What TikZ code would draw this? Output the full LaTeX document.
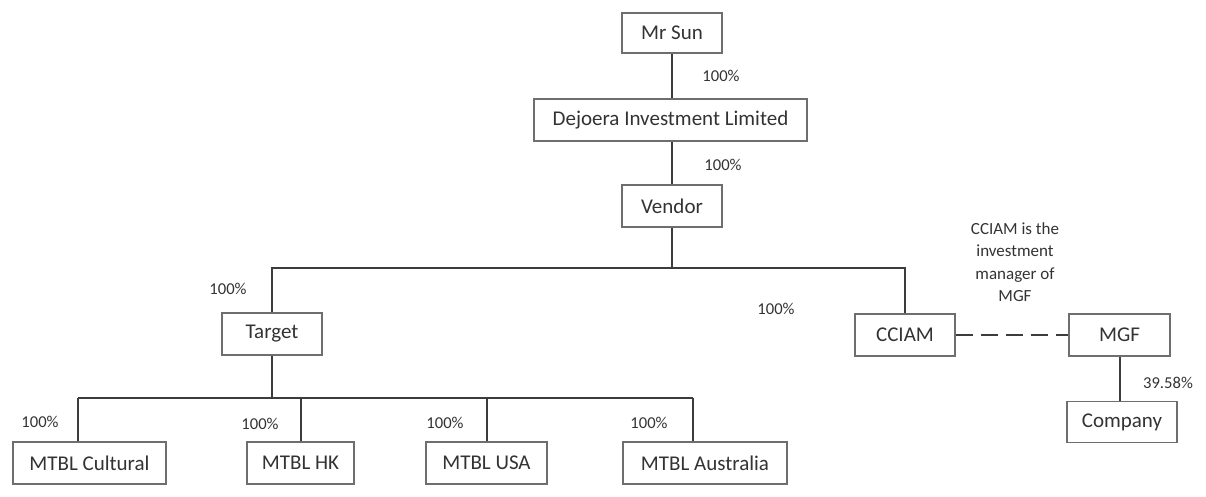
\documentclass[tikz,border=0pt]{standalone}
\usepackage{fontspec}
\setmainfont{Carlito}
\definecolor{boxc}{HTML}{6E6E6E}
\definecolor{linec}{HTML}{3C3C3C}
\definecolor{txtc}{HTML}{333333}
\begin{document}
\begin{tikzpicture}[x=0.5pt,y=-0.5pt,
  box/.style={draw=boxc, line width=0.8pt, fill=white, inner sep=0pt, text=txtc, font=\fontsize{10.5}{12}\selectfont, minimum height=21pt},
  lbl/.style={inner sep=0pt, text=txtc, font=\fontsize{8.3}{10}\selectfont},
  conn/.style={draw=linec, line width=1.4pt}]
\useasboundingbox (0,0) rectangle (1206,497);
% boxes
\node[box, minimum width=50pt, minimum height=20pt] (mrsun) at (672,33) {Mr Sun};
\node[box, minimum width=136.5pt] (dej) at (670.5,120) {Dejoera Investment Limited};
\node[box, minimum width=50pt] (vendor) at (672,206) {Vendor};
\node[box, minimum width=50pt] (target) at (272,334) {Target};
\node[box, minimum width=50pt] (cciam) at (905,335) {CCIAM};
\node[box, minimum width=50.5pt] (mgf) at (1119.5,335) {MGF};
\node[box, minimum width=55pt, minimum height=20.5pt] (company) at (1122,422) {Company};
\node[box, minimum width=76.5pt] (cult) at (89.5,463) {MTBL Cultural};
\node[box, minimum width=53.5pt] (hk) at (300.5,463) {MTBL HK};
\node[box, minimum width=60.5pt] (usa) at (486.5,463) {MTBL USA};
\node[box, minimum width=82pt] (aus) at (705,463) {MTBL Australia};
% coordinates
\coordinate (b1) at (672,268);
\coordinate (b2) at (272,398);
\coordinate (d1) at (78,398);
\coordinate (d2) at (301,398);
\coordinate (d3) at (487,398);
\coordinate (d4) at (693,398);
% connectors
\draw[conn] (mrsun.south) -- (mrsun.south |- dej.north);
\draw[conn] (vendor.north |- dej.south) -- (vendor.north);
\draw[conn] (vendor.south) -- (b1);
\draw[conn] (target.north) |- (b1) -| (cciam.north);
\draw[conn] (target.south) -- (b2);
\draw[conn] (d1) -- (d4);
\draw[conn] (d1) -- (d1 |- cult.north);
\draw[conn] (d2) -- (d2 |- hk.north);
\draw[conn] (d3) -- (d3 |- usa.north);
\draw[conn] (d4) -- (d4 |- aus.north);
\draw[conn, dash pattern=on 8.5pt off 4pt] (cciam.east) -- (mgf.west);
\draw[conn] (mgf.south -| 1120,0) -- (company.north -| 1120,0);
% labels
\node[lbl] (l1) at (721,76) {100\%};
\node[lbl] (l2) at (723,165) {100\%};
\node[lbl] (l3) at (228,289) {100\%};
\node[lbl] (l4) at (776,309) {100\%};
\node[lbl] (l5) at (40,422) {100\%};
\node[lbl] (l6) at (260,424) {100\%};
\node[lbl] (l7) at (445,423) {100\%};
\node[lbl] (l8) at (649,423) {100\%};
\node[lbl] (l9) at (1168,383) {39.58\%};
\node[lbl, align=center, font=\fontsize{8.5}{11.2}\selectfont] (note) at (1015,262) {CCIAM is the\\investment\\manager of\\MGF};
\end{tikzpicture}
\end{document}
